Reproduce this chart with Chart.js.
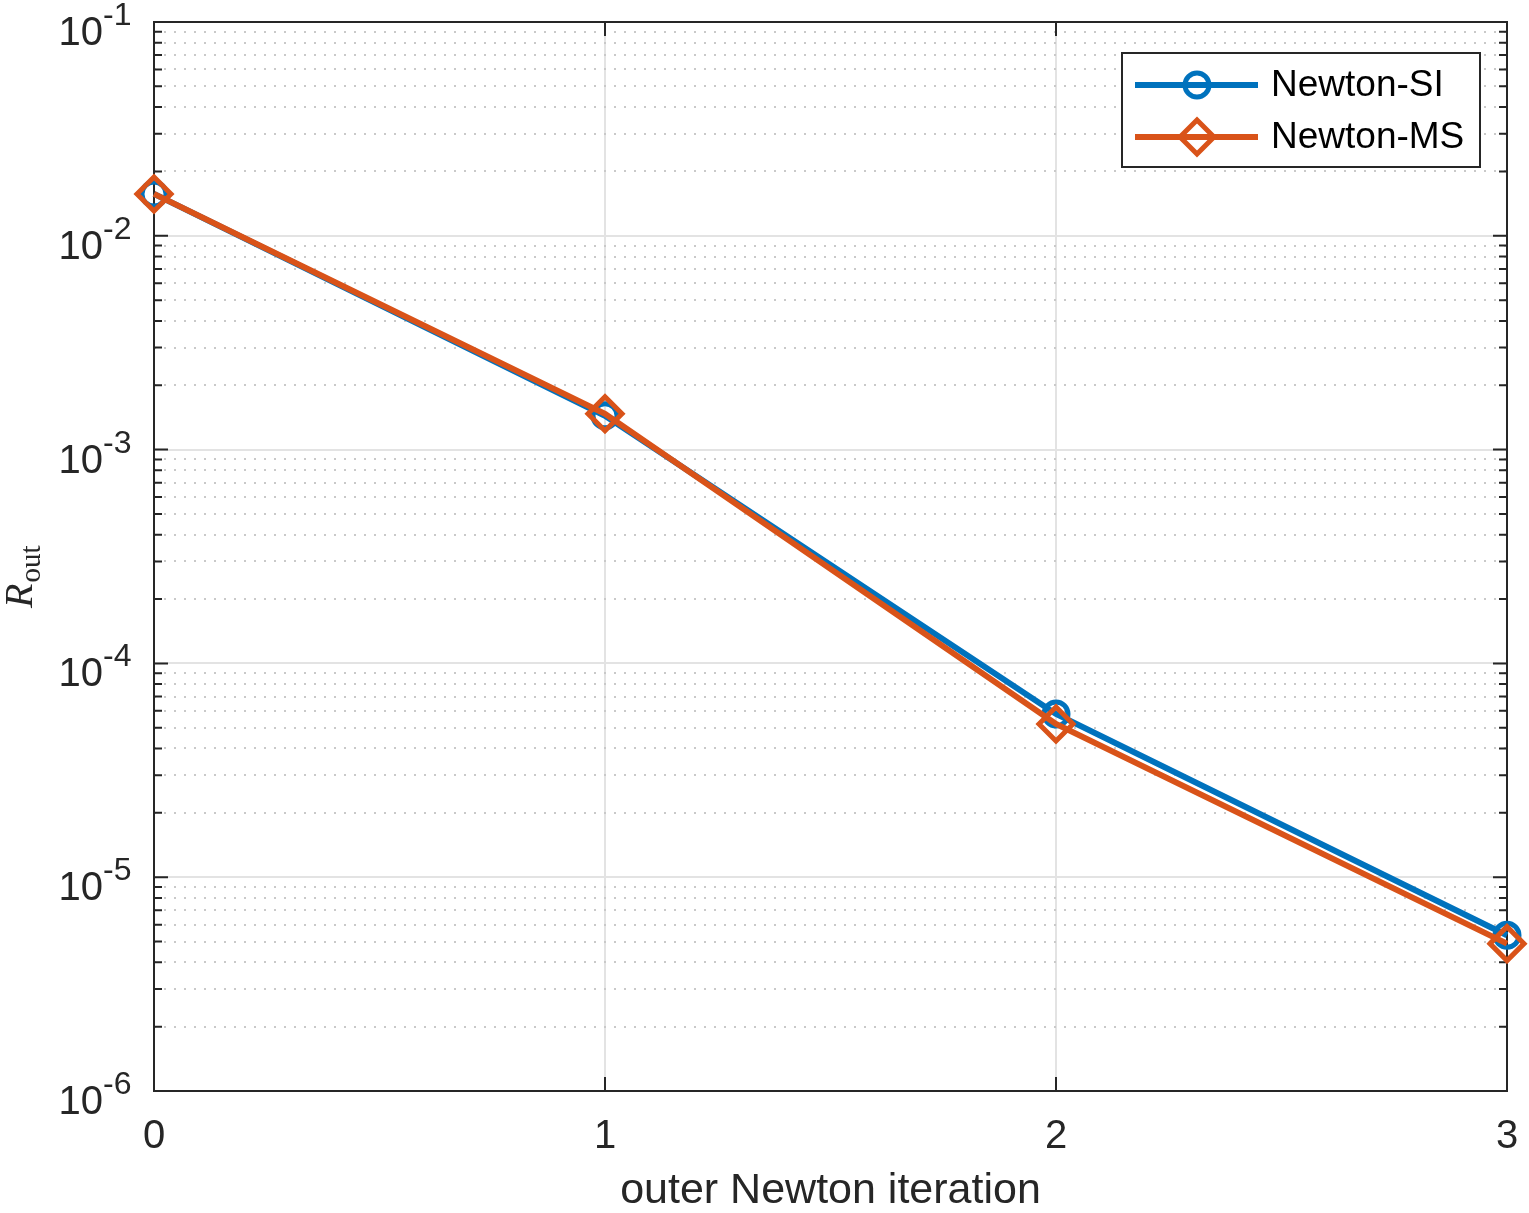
<!DOCTYPE html>
<html>
<head>
<meta charset="utf-8">
<script src="https://cdn.jsdelivr.net/npm/chart.js@4.4.1/dist/chart.umd.min.js"></script>
<style>
    html, body { margin: 0; padding: 0; background: #fff; }
    canvas { display: block; }
</style>
</head>
<body>
<canvas id="myChart" width="1529" height="1213"></canvas>
<script>
// data
const iterations = [0, 1, 2, 3];
const newtonSI = [1.57e-2, 1.44e-3, 5.8e-5, 5.35e-6];
const newtonMS = [1.57e-2, 1.47e-3, 5.21e-5, 4.89e-6];
const xTicks = [0, 1, 2, 3];
const yExponents = [-6, -5, -4, -3, -2, -1];

const axisColor = '#262626';
const blue = '#0072BD';
const orange = '#D95319';

function isDecade(v) {
    const l = Math.log10(v);
    return Math.abs(l - Math.round(l)) < 1e-6;
}

// box, inside ticks, y tick labels and y title (matlab style)
const matlabAxes = {
    id: 'matlabAxes',
    beforeDatasetsDraw(chart) {
        const ctx = chart.ctx;
        const a = chart.chartArea;
        const xs = chart.scales.x;
        const ys = chart.scales.y;
        ctx.save();
        ctx.strokeStyle = axisColor;
        ctx.lineWidth = 2;
        ctx.strokeRect(a.left, a.top, a.right - a.left, a.bottom - a.top);

        ctx.beginPath();
        ys.ticks.forEach(t => {
            const y = ys.getPixelForValue(t.value);
            const len = isDecade(t.value) ? 14 : 8;
            ctx.moveTo(a.left, y); ctx.lineTo(a.left + len, y);
            ctx.moveTo(a.right, y); ctx.lineTo(a.right - len, y);
        });
        xTicks.forEach(v => {
            const x = xs.getPixelForValue(v);
            ctx.moveTo(x, a.bottom); ctx.lineTo(x, a.bottom - 14);
            ctx.moveTo(x, a.top); ctx.lineTo(x, a.top + 14);
        });
        ctx.stroke();

        // y tick labels 10^e
        ctx.fillStyle = axisColor;
        ctx.textBaseline = 'alphabetic';
        yExponents.forEach(e => {
            const y = ys.getPixelForValue(Math.pow(10, e));
            ctx.font = '40px "Liberation Sans", Arial, sans-serif';
            ctx.textAlign = 'right';
            ctx.fillText('10', 103, y + 23);
            ctx.font = '32px "Liberation Sans", Arial, sans-serif';
            ctx.textAlign = 'left';
            ctx.fillText('-' + Math.abs(e), 103, y + 3);
        });

        // y title R_out
        ctx.translate(32, 608);
        ctx.rotate(-Math.PI / 2);
        ctx.textAlign = 'left';
        ctx.font = 'italic 40px "Liberation Serif", "Times New Roman", serif';
        ctx.fillText('R', 0, 0);
        const wR = ctx.measureText('R').width;
        ctx.font = '29px "Liberation Serif", "Times New Roman", serif';
        ctx.fillText('out', wR + 1, 8);
        ctx.restore();
    },
    afterDraw(chart) {
        // legend
        const ctx = chart.ctx;
        ctx.save();
        ctx.fillStyle = '#fff';
        ctx.fillRect(1122, 53, 358, 114);
        ctx.strokeStyle = axisColor;
        ctx.lineWidth = 2;
        ctx.strokeRect(1122, 53, 358, 114);
        const rows = [85, 137];
        chart.data.datasets.forEach((ds, i) => {
            const y = rows[i];
            ctx.strokeStyle = ds.borderColor;
            ctx.lineWidth = ds.borderWidth;
            ctx.beginPath();
            ctx.moveTo(1135, y);
            ctx.lineTo(1258, y);
            ctx.stroke();
            ctx.lineWidth = ds.pointBorderWidth;
            ctx.fillStyle = 'rgba(0,0,0,0)';
            Chart.helpers.drawPoint(ctx, {
                pointStyle: ds.pointStyle,
                rotation: 0,
                radius: ds.pointRadius,
                borderWidth: ds.pointBorderWidth
            }, 1197, y);
            ctx.fillStyle = '#000';
            ctx.font = '37px "Liberation Sans", Arial, sans-serif';
            ctx.textAlign = 'left';
            ctx.textBaseline = 'middle';
            ctx.fillText(ds.label, 1271, y + 1);
        });
        ctx.restore();
    }
};

const ctx = document.getElementById('myChart').getContext('2d');

const data = {
    datasets: [{
        label: 'Newton-SI',
        data: iterations.map((x, i) => ({x: x, y: newtonSI[i]})),
        order: 1,
        borderColor: blue,
        backgroundColor: blue,
        borderWidth: 6,
        pointStyle: 'circle',
        pointRadius: 12,
        pointBorderWidth: 5,
        pointBorderColor: blue,
        pointBackgroundColor: 'rgba(0,0,0,0)',
        tension: 0,
        clip: false,
    }, {
        label: 'Newton-MS',
        data: iterations.map((x, i) => ({x: x, y: newtonMS[i]})),
        order: 0,
        borderColor: orange,
        backgroundColor: orange,
        borderWidth: 6,
        pointStyle: 'rectRot',
        pointRadius: 17,
        pointBorderWidth: 5,
        pointBorderColor: orange,
        pointBackgroundColor: 'rgba(0,0,0,0)',
        tension: 0,
        clip: false,
    }]
};

const options = {
    responsive: false,
    animation: false,
    layout: {
        padding: {left: 0, top: 20, right: 15, bottom: 0}
    },
    plugins: {
        legend: {display: false},
        tooltip: {enabled: false}
    },
    scales: {
        x: {
            type: 'linear',
            min: 0,
            max: 3,
            afterFit: (scale) => {
                scale.height = 122;
                scale.paddingLeft = 0;
                scale.paddingRight = 0;
            },
            afterBuildTicks: (scale) => { scale.ticks = xTicks.map(v => ({value: v})); },
            ticks: {
                color: axisColor,
                padding: 22,
                font: {family: '"Liberation Sans", Arial, sans-serif', size: 40},
                callback: (v) => String(v)
            },
            grid: {
                color: '#e3e3e3',
                lineWidth: 2,
                drawTicks: false
            },
            border: {display: false},
            title: {
                display: true,
                text: 'outer Newton iteration',
                color: axisColor,
                font: {family: '"Liberation Sans", Arial, sans-serif', size: 43, lineHeight: 1},
                padding: {top: 0, bottom: 0}
            }
        },
        y: {
            type: 'logarithmic',
            min: 1e-6,
            max: 1e-1,
            afterFit: (scale) => { scale.width = 154; },
            afterBuildTicks: (scale) => {
                const t = [];
                for (let e = -6; e < -1; e++) {
                    for (let m = 1; m <= 9; m++) t.push({value: m * Math.pow(10, e)});
                }
                t.push({value: 1e-1});
                scale.ticks = t;
            },
            ticks: {display: false},
            grid: {
                color: (c) => isDecade(c.tick.value) ? '#e3e3e3' : '#c9c9c9',
                lineWidth: 2,
                drawTicks: false
            },
            border: {
                display: false,
                dash: (c) => isDecade(c.tick.value) ? [] : [2, 8]
            }
        }
    }
};

new Chart(ctx, {
    type: 'line',
    data: data,
    options: options,
    plugins: [matlabAxes]
});
</script>
</body>
</html>
